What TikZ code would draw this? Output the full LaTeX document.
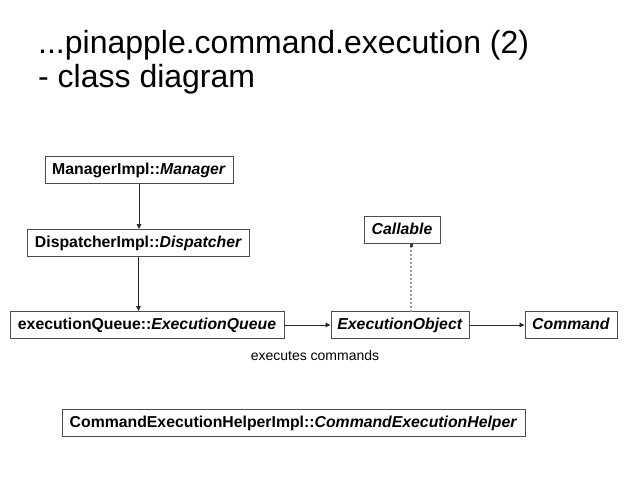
\documentclass[tikz,border=0pt]{standalone}
\usepackage{fontspec}
\setmainfont{Liberation Sans}
\usetikzlibrary{arrows.meta,calc}
\begin{document}
\begin{tikzpicture}[x=1pt,y=-1pt,
  cls/.style={draw=black!70,line width=1pt,fill=white,inner sep=0pt,minimum height=27pt,text height=11.5pt,text depth=3.5pt,font=\fontsize{15.8}{17}\selectfont\bfseries},
  assoc/.style={draw=black!85,line width=0.9pt,-{Triangle[length=5pt,width=4.5pt]}},
  real/.style={draw=black!40,line width=1.8pt,dash pattern=on 2pt off 2pt}]
\useasboundingbox[fill=white] (0,0) rectangle (640,480);
\node[anchor=north west,align=left,font=\fontsize{32}{34.5}\selectfont,inner sep=0pt] (title) at (38,30) {...pinapple.command.execution (2)\\- class diagram};
\node[cls,minimum width=188pt] (mgr) at (139,170) {ManagerImpl::\textit{Manager}};
\node[cls,minimum width=222pt] (disp) at (138.5,243) {DispatcherImpl::\textit{Dispatcher}};
\node[cls,minimum width=274pt] (queue) at (147,325) {executionQueue::\textit{ExecutionQueue}};
\node[cls,minimum width=138pt] (eobj) at (400,325) {\textit{ExecutionObject}};
\node[cls,minimum width=92pt] (cmd) at (571,325) {\textit{Command}};
\node[cls,minimum width=76pt] (call) at (402,230) {\textit{Callable}};
\node[cls,minimum width=463pt] (helper) at (293.5,423) {CommandExecutionHelperImpl::\textit{CommandExecutionHelper}};
\node[font=\fontsize{14}{16}\selectfont] (lbl) at (315,355) {executes commands};
\draw[assoc] (mgr.south) -- (mgr.south |- disp.north);
\draw[assoc] (disp.south) -- (disp.south |- queue.north);
\draw[assoc] (queue.east) -- (eobj.west);
\draw[assoc] (eobj.east) -- (cmd.west);
\coordinate (cb) at (411,312);
\draw[real] (cb) -- ($(cb |- call.south)+(0,3)$);
\fill[black!75] ($(cb |- call.south)+(-1.5,0)$) rectangle ++(3,3);
\end{tikzpicture}
\end{document}
